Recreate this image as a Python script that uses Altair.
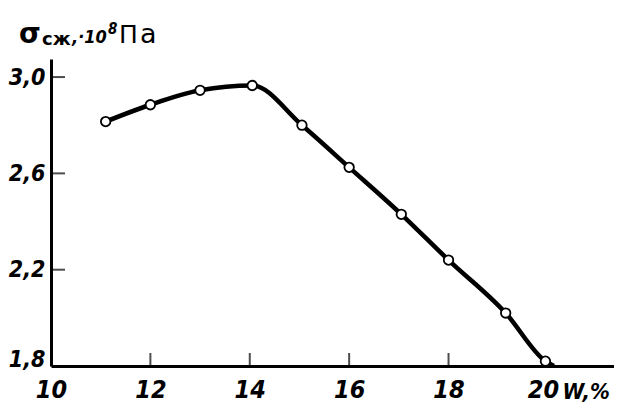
import altair as alt
import pandas as pd

# ---- data ----
w_pct = [11.1, 12.0, 13.0, 14.05, 15.05, 16.0, 17.05, 18.0, 19.15, 19.95]
sigma = [2.815, 2.885, 2.945, 2.965, 2.80, 2.625, 2.43, 2.24, 2.02, 1.82]
line_end_w = [20.12]
line_end_sigma = [1.8]
x_tick_values = [10, 12, 14, 16, 18, 20]
x_inner_ticks = [12, 14, 16, 18]
y_tick_values = [1.8, 2.2, 2.6, 3.0]
y_inner_ticks = [2.2, 2.6, 3.0]
title_parts = ["σ", "сж", ",·10", "8", "П", "а"]
x_title = "W,%"

W, H = 563, 307
FONT = "DejaVu Sans Condensed, DejaVu Sans, sans-serif"

pts = pd.DataFrame({"w": w_pct, "s": sigma})
line_df = pd.DataFrame({"w": w_pct + line_end_w, "s": sigma + line_end_sigma})

xs = alt.Scale(domain=[10, 21.33], nice=False, zero=False)
ys = alt.Scale(domain=[1.8, 3.075], nice=False, zero=False)

x_axis = alt.Axis(
    values=x_tick_values, format="d", ticks=False, grid=False,
    domainColor="black", domainWidth=3,
    labelFont=FONT, labelFontSize=25, labelFontStyle="italic", labelFontWeight="bold",
    labelColor="black", labelPadding=11, labelFlush=False, labelOverlap=False,
    labelOffset={"condition": {"test": "datum.value > 19", "value": -5}, "value": 0},
    title=x_title, titleFont=FONT, titleFontSize=22, titleFontStyle="italic",
    titleFontWeight="bold", titleColor="black", titleX=511, titleY=32,
    titleAlign="left", titleBaseline="alphabetic", titleAngle=0,
)
y_axis = alt.Axis(
    values=y_tick_values, ticks=False, grid=False,
    domainColor="black", domainWidth=3,
    labelExpr="replace(format(datum.value, '.1f'), '.', ',')",
    labelBaseline={"condition": {"test": "datum.value < 1.9", "value": "alphabetic"}, "value": "middle"},
    labelFont=FONT, labelFontSize=23, labelFontStyle="italic", labelFontWeight="bold",
    labelColor="black", labelPadding=6, labelFlush=False, labelOverlap=False,
    title=None,
)

line = alt.Chart(line_df).mark_line(
    color="black", strokeWidth=4.5, interpolate="monotone"
).encode(
    x=alt.X("w:Q", scale=xs, axis=x_axis),
    y=alt.Y("s:Q", scale=ys, axis=y_axis),
)

points = alt.Chart(pts).mark_point(
    shape="circle", filled=True, fill="white", stroke="black",
    strokeWidth=1.8, size=90, opacity=1
).encode(
    x=alt.X("w:Q", scale=xs),
    y=alt.Y("s:Q", scale=ys),
)

xt = alt.Chart(pd.DataFrame({"t": x_inner_ticks})).mark_tick(
    orient="vertical", size=13, thickness=2, color="black"
).encode(
    x=alt.X("t:Q", scale=xs),
    y=alt.value(H - 6.5),
)

yt = alt.Chart(pd.DataFrame({"t": y_inner_ticks})).mark_tick(
    orient="horizontal", size=14, thickness=2, color="black"
).encode(
    y=alt.Y("t:Q", scale=ys),
    x=alt.value(7),
)

def part(txt, x, y, size, style="normal", weight="normal", font=FONT):
    return alt.Chart(pd.DataFrame({"t": [txt]})).mark_text(
        align="left", baseline="alphabetic", fontSize=size, fontStyle=style,
        fontWeight=weight, font=font, color="black"
    ).encode(text="t:N", x=alt.value(x), y=alt.value(y))

title_layers = [
    part(title_parts[0], -32, -16, 28, "normal", "bold", "DejaVu Sans, sans-serif"),
    part(title_parts[1], -9, -14, 18, "normal", "bold", "DejaVu Sans, sans-serif"),
    part(title_parts[2], 21, -16, 18, "italic", "bold"),
    part(title_parts[3], 57, -25, 15, "italic", "bold"),
    part(title_parts[4], 68, -16, 25, "normal", "normal", "DejaVu Sans, sans-serif"),
    part(title_parts[5], 89, -16, 27, "normal", "normal", "DejaVu Sans, sans-serif"),
]

chart = alt.layer(line, points, xt, yt, *title_layers).properties(
    width=W, height=H,
    padding={"left": 43, "top": 51, "right": 0, "bottom": 36},
    autosize="none", background="white",
).configure_view(stroke=None)

chart.save("out.html", embed_options={"renderer": "svg", "actions": False})
